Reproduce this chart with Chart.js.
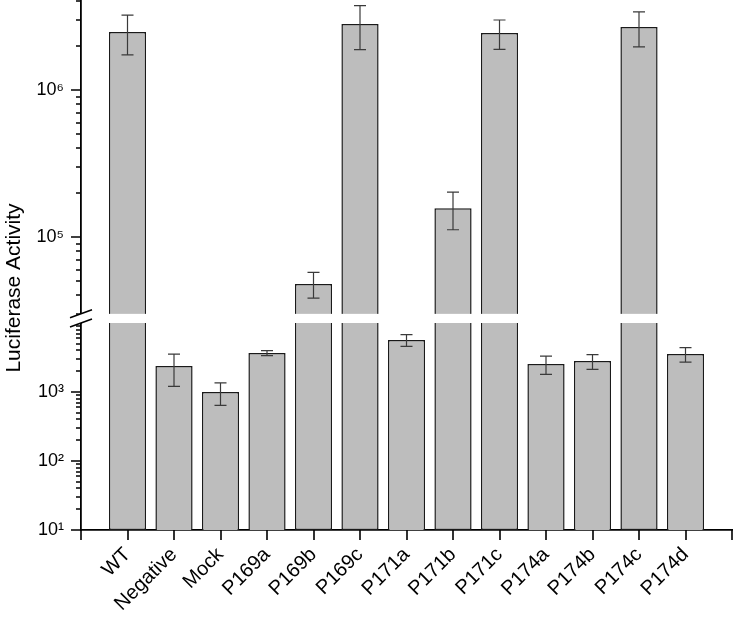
<!doctype html>
<html lang="en">
<head>
<meta charset="utf-8" />
<title>Luciferase Activity</title>
<script src="https://cdn.jsdelivr.net/npm/chart.js"></script>
<style>
  html, body { margin: 0; padding: 0; background: #fff; }
  canvas { display: block; }
</style>
</head>
<body>
<canvas id="chart" width="733" height="617"></canvas>
<script>
const categories = ["WT", "Negative", "Mock", "P169a", "P169b", "P169c", "P171a", "P171b", "P171c", "P174a", "P174b", "P174c", "P174d"];
const means = [2.48e6, 2380, 1000, 3670, 4.79e4, 2.81e6, 5680, 1.57e5, 2.44e6, 2550, 2810, 2.68e6, 3560];
const errors = [0.75e6, 1170, 360, 300, 9500, 0.93e6, 1100, 45000, 0.55e6, 750, 680, 0.72e6, 850];

// broken log axis: lower part 10..1e4, upper part from the break up to ~4e6
const LOW_MIN = 10;
const LOW_MAX = 1e4;
const UP_BREAK = 3e4;
const UP_MIN = 2.6e4;
const UP_MAX = 4.09e6;

const lowTickDecades = [1, 2, 3];
const upTickDecades = [4, 5, 6];
const minorSteps = [1, 2, 3, 4, 5, 6, 7, 8, 9];
const labelDecades = [1, 2, 3, 5, 6];
const decadeLabels = ["10\u00b9", "10\u00b2", "10\u00b3", "10\u2075", "10\u2076"];

const FONT = "'Liberation Sans', Arial, sans-serif";
const INK = "#000";

function tickList(decades, min, max) {
  const out = [];
  decades.forEach((d) => minorSteps.forEach((s) => {
    const v = s * Math.pow(10, d);
    if (v > min && v < max) out.push({ value: v });
  }));
  if (min === LOW_MIN) out.unshift({ value: LOW_MIN });
  return out;
}

function isDecade(v) {
  const e = Math.log10(v);
  return Math.abs(e - Math.round(e)) < 1e-9;
}

function decadeLabel(v) {
  if (!isDecade(v)) return "";
  const i = labelDecades.indexOf(Math.round(Math.log10(v)));
  return i < 0 ? "" : decadeLabels[i];
}

function yScale(min, max, decades, weight) {
  return {
    type: "logarithmic",
    position: "left",
    stack: "y",
    stackWeight: weight,
    min, max,
    afterBuildTicks: (s) => { s.ticks = tickList(decades, min, max); },
    afterFit: (s) => { s.width = 81; s.paddingTop = 0; s.paddingBottom = 0; },
    border: { color: INK, width: 1.8 },
    // tick marks are drawn by the plugin (major long, minor short)
    grid: { drawOnChartArea: false, tickLength: 10, tickColor: "rgba(0,0,0,0)" },
    ticks: {
      autoSkip: false,
      padding: 7,
      color: INK,
      font: { family: FONT, size: 18 },
      callback: (v) => decadeLabel(v),
    },
  };
}

const xLabels = ["", ...categories, ""];
const upperData = ["", ...means, ""].map((v) => (v !== "" && v > UP_BREAK ? v : null));
const lowerData = ["", ...means, ""].map((v) => (v === "" ? null : Math.min(v, LOW_MAX)));

const breakPlugin = {
  id: "breakAndErrors",
  afterDatasetsDraw(chart) {
    const { ctx, scales } = chart;
    const xs = scales.x, up = scales.yUp, low = scales.yLow;
    const axisX = up.right;
    ctx.save();
    // tick marks
    ctx.strokeStyle = INK;
    ctx.lineWidth = 1.6;
    ctx.beginPath();
    [low, up].forEach((s) => s.ticks.forEach((t) => {
      const y = Math.round(s.getPixelForValue(t.value));
      const len = isDecade(t.value) ? 10 : 5;
      ctx.moveTo(axisX - len, y);
      ctx.lineTo(axisX, y);
    }));
    xLabels.forEach((_, i) => {
      const x = Math.round(xs.getPixelForValue(i));
      ctx.moveTo(x, xs.top);
      ctx.lineTo(x, xs.top + 10);
    });
    ctx.stroke();
    // error bars
    ctx.strokeStyle = "#3a3a3a";
    ctx.lineWidth = 1.2;
    ctx.beginPath();
    means.forEach((m, i) => {
      const s = m > UP_BREAK ? up : low;
      const x = xs.getPixelForValue(i + 1);
      const yTop = s.getPixelForValue(m + errors[i]);
      const yBot = s.getPixelForValue(m - errors[i]);
      ctx.moveTo(x, yTop); ctx.lineTo(x, yBot);
      ctx.moveTo(x - 6, yTop); ctx.lineTo(x + 6, yTop);
      ctx.moveTo(x - 6, yBot); ctx.lineTo(x + 6, yBot);
    });
    ctx.stroke();
    // axis break gap
    const yA = up.getPixelForValue(UP_BREAK);
    const yB = up.bottom;
    ctx.fillStyle = "#fff";
    ctx.fillRect(axisX - 3, yA, chart.width, yB - yA);
    ctx.strokeStyle = INK;
    ctx.lineWidth = 1.6;
    ctx.beginPath();
    ctx.moveTo(axisX - 11, yA + 4); ctx.lineTo(axisX + 11, yA - 4);
    ctx.moveTo(axisX - 11, yB + 4); ctx.lineTo(axisX + 11, yB - 4);
    ctx.stroke();
    // axis title
    ctx.translate(14, 288);
    ctx.rotate(-Math.PI / 2);
    ctx.fillStyle = INK;
    ctx.font = "21px " + FONT;
    ctx.textAlign = "center";
    ctx.textBaseline = "middle";
    ctx.fillText("Luciferase Activity", 0, 0);
    ctx.restore();
  },
};

const barStyle = {
  backgroundColor: "#bdbdbd",
  borderColor: "#1a1a1a",
  borderWidth: 1.5,
  barPercentage: 0.8,
  categoryPercentage: 1.0,
  grouped: false,
};

new Chart(document.getElementById("chart"), {
  type: "bar",
  data: {
    labels: xLabels,
    datasets: [
      { ...barStyle, label: "lower", data: lowerData, yAxisID: "yLow",
        borderSkipped: (c) => (c.raw !== null && c.raw >= LOW_MAX ? "end" : "start") },
      { ...barStyle, label: "upper", data: upperData, yAxisID: "yUp", borderSkipped: "start" },
    ],
  },
  options: {
    responsive: false,
    animation: false,
    layout: { padding: { top: 0, right: 1, bottom: 0, left: 0 } },
    plugins: { legend: { display: false }, tooltip: { enabled: false } },
    scales: {
      x: {
        type: "category",
        offset: false,
        afterFit: (s) => { s.height = 87; s.paddingLeft = 0; s.paddingRight = 0; },
        border: { color: INK, width: 1.8 },
        grid: { offset: false, drawOnChartArea: false, tickLength: 10, tickColor: "rgba(0,0,0,0)" },
        ticks: {
          autoSkip: false,
          minRotation: 45,
          maxRotation: 45,
          padding: 3,
          color: INK,
          font: { family: FONT, size: 20 },
        },
      },
      yLow: yScale(LOW_MIN, LOW_MAX, lowTickDecades, 207),
      yUp: yScale(UP_MIN, UP_MAX, upTickDecades, 323),
    },
  },
  plugins: [breakPlugin],
});
</script>
</body>
</html>
